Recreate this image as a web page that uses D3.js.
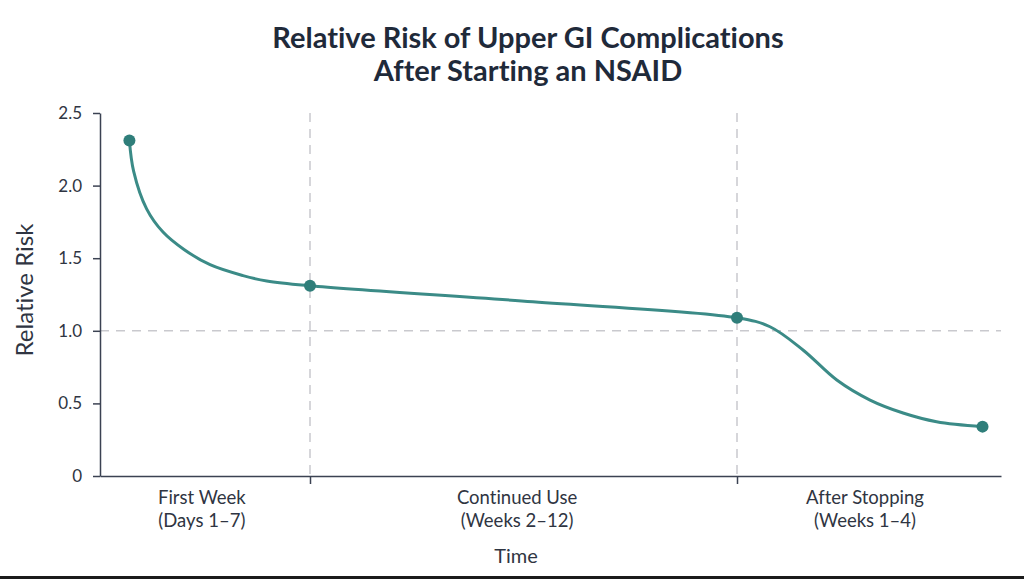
<!DOCTYPE html>
<html>
<head>
<meta charset="utf-8">
<script src="https://cdn.jsdelivr.net/npm/d3@7"></script>
<style>
    html, body { margin: 0; padding: 0; background: #ffffff; }
    svg { display: block; font-family: Lato, "Open Sans", sans-serif; font-variant-ligatures: none; }
</style>
</head>
<body>
<div id="chart"></div>
<script>
// Phase boundaries on the x axis (0..3), one section per phase
const phaseBounds = [0, 1, 2, 3];
const phaseTitles = ['First Week', 'Continued Use', 'After Stopping'];
const phaseSubtitles = ['(Days 1\u20137)', '(Weeks 2\u201312)', '(Weeks 1\u20134)'];

// Marked estimates (position in phase units, relative risk)
const markerX = [0.14, 1.0, 2.0, 2.93];
const markerRisk = [2.31, 1.31, 1.09, 0.34];

// Curve
const traceX = [0.14, 0.16, 0.222, 0.30, 0.40, 0.524, 0.681, 0.794, 1.0,
    1.522, 2.0, 2.125, 2.25, 2.378, 2.504, 2.629, 2.756, 2.93];
const traceRisk = [2.31, 2.10, 1.84, 1.68, 1.56, 1.455, 1.38, 1.343, 1.31,
    1.20, 1.09, 1.028, 0.868, 0.661, 0.523, 0.434, 0.374, 0.34];

const yTicks = [0, 0.5, 1.0, 1.5, 2.0, 2.5];
const yTickLabels = ['0', '0.5', '1.0', '1.5', '2.0', '2.5'];
const referenceRisk = 1.0;

const titleLines = ['Relative Risk of Upper GI Complications', 'After Starting an NSAID'];

const width = 1024;
const height = 579;
const margin = {top: 113, right: 23, bottom: 103, left: 100};
const plotW = width - margin.left - margin.right;
const plotH = height - margin.top - margin.bottom;

const axisColor = '#3b4252';
const textColor = '#2f3542';
const lineColor = '#3b8b87';
const dotColor = '#2f7e7a';
const gridColor = '#c9c9ce';

const svg = d3.select('#chart').append('svg')
    .attr('width', width)
    .attr('height', height);

svg.append('rect')
    .attr('width', width)
    .attr('height', height)
    .attr('fill', '#ffffff');

// the section widths are uneven, so the scale is piecewise
const x = d3.scaleLinear()
    .domain(phaseBounds)
    .range([0, 210, 637, plotW]);
const y = d3.scaleLinear()
    .domain([0, 2.5])
    .range([plotH, 0]);

const g = svg.append('g')
    .attr('transform', 'translate(' + margin.left + ',' + margin.top + ')');

// dashed guides
g.append('line')
    .attr('x1', 0)
    .attr('x2', plotW)
    .attr('y1', y(referenceRisk))
    .attr('y2', y(referenceRisk))
    .attr('stroke', gridColor)
    .attr('stroke-width', 1.5)
    .attr('stroke-dasharray', '9,7');

g.selectAll('.divider')
    .data(phaseBounds.slice(1, -1))
    .enter()
.append('line')
    .attr('class', 'divider')
    .attr('x1', (d) => x(d))
    .attr('x2', (d) => x(d))
    .attr('y1', 0)
    .attr('y2', plotH)
    .attr('stroke', gridColor)
    .attr('stroke-width', 1.5)
    .attr('stroke-dasharray', '9,7');

// axes
const yAxis = g.append('g')
    .attr('class', 'axis axis--y')
    .call(d3.axisLeft(y)
        .tickValues(yTicks)
        .tickFormat((d, i) => yTickLabels[i])
        .tickSize(7)
        .tickSizeOuter(0)
        .tickPadding(11));

const xAxis = g.append('g')
    .attr('class', 'axis axis--x')
    .attr('transform', 'translate(0,' + plotH + ')')
    .call(d3.axisBottom(x)
        .tickValues(phaseBounds.slice(1, -1))
        .tickFormat('')
        .tickSize(8)
        .tickSizeOuter(0));

[xAxis, yAxis].forEach((ax) => {
    ax.selectAll('path, line')
        .attr('stroke', axisColor)
        .attr('stroke-width', 1.5);
});
yAxis.selectAll('text')
    .attr('fill', textColor)
    .style('font-size', '17px')
    .style('font-family', 'Lato, sans-serif');

// phase labels
const labels = g.selectAll('.phase')
    .data(phaseTitles)
    .enter()
.append('text')
    .attr('class', 'phase')
    .attr('text-anchor', 'middle')
    .attr('fill', textColor)
    .style('font-size', '18.5px');

labels.append('tspan')
    .attr('x', (d, i) => x(phaseBounds[i] + 0.485))
    .attr('y', plotH + 28)
    .text((d) => d);
labels.append('tspan')
    .attr('x', (d, i) => x(phaseBounds[i] + 0.485))
    .attr('y', plotH + 51)
    .text((d, i) => phaseSubtitles[i]);

// curve
const trace = traceX.map((d, i) => ({x: d, v: traceRisk[i]}));
const line = d3.line()
    .curve(d3.curveCatmullRom.alpha(0.5))
    .x((d) => x(d.x))
    .y((d) => y(d.v));

g.append('path')
    .datum(trace)
    .attr('d', line)
    .attr('fill', 'none')
    .attr('stroke', lineColor)
    .attr('stroke-width', 3)
    .attr('stroke-linecap', 'round');

g.selectAll('.dot')
    .data(markerX.map((d, i) => ({x: d, v: markerRisk[i]})))
    .enter()
.append('circle')
    .attr('class', 'dot')
    .attr('cx', (d) => x(d.x))
    .attr('cy', (d) => y(d.v))
    .attr('r', 6)
    .attr('fill', dotColor);

// axis titles
svg.append('text')
    .attr('transform', 'translate(33,290) rotate(-90)')
    .attr('text-anchor', 'middle')
    .attr('fill', textColor)
    .style('font-size', '24px')
    .text('Relative Risk');

svg.append('text')
    .attr('x', 516)
    .attr('y', 563)
    .attr('text-anchor', 'middle')
    .attr('fill', textColor)
    .style('font-size', '20px')
    .text('Time');

// title
svg.append('text')
    .attr('text-anchor', 'middle')
    .attr('fill', '#1f2a3a')
    .style('font-size', '29px')
    .style('font-weight', '700')
    .selectAll('tspan')
    .data(titleLines)
    .enter()
.append('tspan')
    .attr('x', 528)
    .attr('y', (d, i) => 48 + i * 33)
    .text((d) => d);

// dark strip along the bottom edge of the picture
svg.append('rect')
    .attr('x', 0)
    .attr('y', height - 3)
    .attr('width', width)
    .attr('height', 3)
    .attr('fill', '#1b1b1b');
</script>
</body>
</html>
